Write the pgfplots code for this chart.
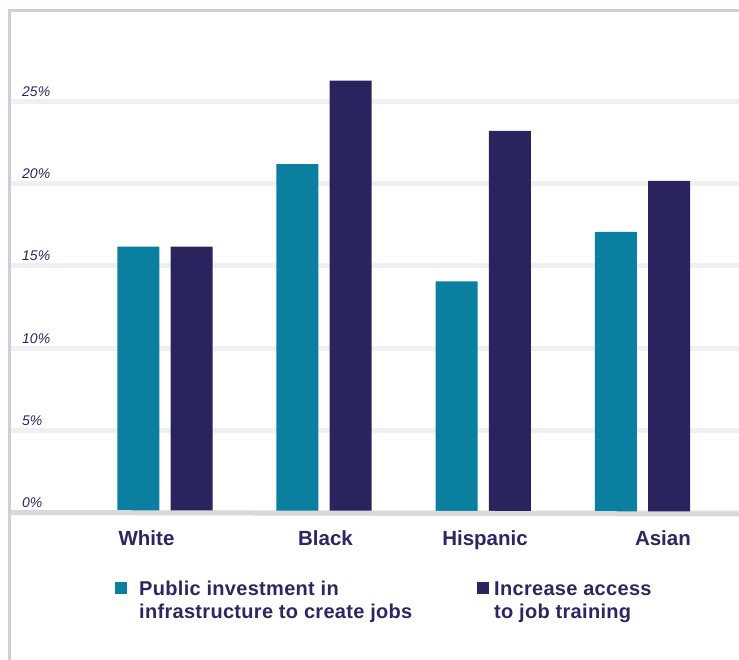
\documentclass[border=0pt]{standalone}
\usepackage{pgfplots}
\pgfplotsset{compat=1.18}
\usepackage{fontspec}
\setmainfont{Liberation Sans}
\newfontfamily\legfont[LetterSpace=1.5]{Liberation Sans}
\definecolor{teal1}{HTML}{0B7FA0}
\definecolor{navy1}{HTML}{29245E}
\definecolor{txt}{HTML}{2B2761}
\definecolor{gridc}{HTML}{F0F0F2}
\definecolor{basec}{HTML}{D9D9D9}
\definecolor{framec}{HTML}{CFCDE0}
\begin{document}
\begin{tikzpicture}
\useasboundingbox (0,0) rectangle (739pt,-660pt);
\draw[framec, line width=3pt] (9.5pt,-660pt) -- (9.5pt,-10.5pt) -- (739pt,-10.5pt);
\begin{axis}[
  at={(11pt,-512.3pt)}, anchor=south west,
  scale only axis, width=728pt, height=502pt,
  xmin=-0.9669, xmax=3.6068, ymin=0, ymax=30.57,
  clip=false,
  axis line style={draw=none},
  ybar, bar width=42pt,
  ytick={0,5,10,15,20,25},
  yticklabels={0\%,5\%,10\%,15\%,20\%,25\%},
  ymajorgrids, major grid style={gridc, line width=5pt},
  major tick length=0pt, tick style={draw=none},
  yticklabel style={anchor=base west, inner sep=0pt, xshift=11pt, yshift=5pt,
    font=\fontsize{14}{14}\selectfont\itshape, text=txt},
  xtick={-0.1156,1.0088,2.0112,3.129},
  xticklabels={White,Black,Hispanic,Asian},
  xticklabel style={anchor=base, inner sep=0pt, yshift=-33pt,
    font=\fontsize{20.5}{20.5}\selectfont\bfseries, text=txt},
  legend columns=2,
  legend style={at={(0.1429,-0.1355)}, anchor=north west, draw=none, fill=none,
    inner sep=0pt, column sep=0pt, row sep=0pt,
    cells={anchor=base west},
    nodes={inner sep=0pt, text depth=, font=\legfont\fontsize{20}{23.5}\selectfont\bfseries, text=txt}},
]
\addplot[fill=teal1, draw=none, bar shift=-26.6pt,
  legend image code/.code={\fill[teal1] (0pt,1.5pt) rectangle (12pt,13.5pt);}]
  coordinates {(0,16.18) (1,21.21) (2,14.07) (3,17.07)};
\addlegendentry{\hspace*{12pt}\parbox[t]{338pt}{Public investment in\\infrastructure to create jobs}}
\addplot[fill=navy1, draw=none, bar shift=26.6pt,
  legend image code/.code={\fill[navy1] (0pt,1.5pt) rectangle (12pt,13.5pt);}]
  coordinates {(0,16.18) (1,26.28) (2,23.22) (3,20.18)};
\addlegendentry{\hspace*{5pt}\parbox[t]{200pt}{Increase access\\to job training}}
\end{axis}
\draw[basec, line width=5pt] (11pt,-512.5pt) -- (739pt,-514pt);
\end{tikzpicture}
\end{document}
